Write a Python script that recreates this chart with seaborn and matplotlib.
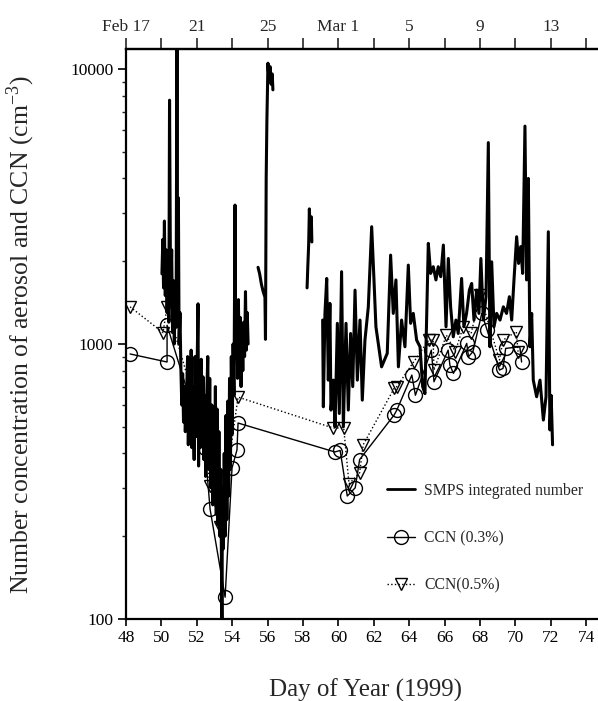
import numpy as np
import pandas as pd
import matplotlib
matplotlib.use("Agg")
import matplotlib.pyplot as plt
import seaborn as sns
from matplotlib.lines import Line2D
from matplotlib.ticker import LogLocator, NullFormatter, FixedLocator, FixedFormatter

# ---------------- data ----------------
# SMPS integrated number, separate record segments (day of year, cm-3)
seg_a_day = [50.03, 50.08, 50.12, 50.17, 50.22, 50.27, 50.32, 50.37, 50.42, 50.46, 50.52, 50.58,
             50.63, 50.68, 50.73, 50.78, 50.83, 50.88, 50.92, 50.96, 51.0, 51.05, 51.1, 51.15,
             51.2, 51.25, 51.3, 51.35, 51.42, 51.48, 51.52, 51.58, 51.62, 51.68, 51.72, 51.78,
             51.85, 51.9, 51.95, 52.0, 52.07, 52.1, 52.15, 52.2, 52.25, 52.3, 52.35, 52.4,
             52.45, 52.5, 52.55, 52.62, 52.68, 52.73, 52.78, 52.85, 52.9, 52.95, 53.0, 53.05,
             53.1, 53.15, 53.2, 53.25, 53.3, 53.35, 53.42, 53.45, 53.5, 53.55, 53.6, 53.65,
             53.7, 53.75, 53.8, 53.85, 53.9, 53.95, 54.0, 54.05, 54.1, 54.16, 54.2, 54.25,
             54.3, 54.35, 54.4, 54.45, 54.5, 54.55, 54.6, 54.65, 54.7, 54.75, 54.8, 54.85, 54.9]
seg_a_val = [1800, 2400, 1600, 2800, 1500, 2200, 1300, 1900, 1200, 7700, 1400, 2200,
             1100, 1700, 1000, 1600, 1150, 15000, 1300, 3400, 1000, 1300, 820, 600,
             780, 520, 700, 480, 650, 900, 430, 820, 500, 950, 420, 700,
             380, 900, 460, 700, 1400, 360, 650, 420, 880, 450, 760, 380,
             650, 330, 600, 900, 350, 750, 300, 600, 260, 500, 280, 700,
             240, 580, 220, 480, 200, 350, 100, 300, 180, 400, 200, 550,
             230, 620, 280, 750, 350, 900, 470, 1000, 650, 3200, 900, 1300,
             750, 1450, 850, 1250, 700, 1100, 800, 1200, 900, 1550, 950, 1300, 1000]

seg_b_day = [55.46, 55.55, 55.65, 55.75, 55.85, 55.88, 55.92, 55.96, 56.02, 56.08, 56.14, 56.2, 56.26, 56.3]
seg_b_val = [1900, 1800, 1650, 1550, 1480, 1040, 4000, 6500, 10500, 9000, 10200, 8800, 9600, 8400]

seg_c_day = [58.23, 58.27, 58.32, 58.36, 58.42, 58.47, 58.5]
seg_c_val = [1600, 1900, 2300, 3100, 2400, 2900, 2350]

seg_d_day = [59.11, 59.15, 59.24, 59.34, 59.43, 59.52, 59.58, 59.71, 59.81, 59.94, 60.05, 60.18,
             60.28, 60.43, 60.56, 60.69, 60.81, 60.94, 61.07, 61.22, 61.35, 61.5, 61.69, 61.88,
             62.01, 62.12, 62.44, 62.76, 62.95, 63.1, 63.25, 63.39, 63.57, 63.76, 63.95, 64.08,
             64.23, 64.42, 64.61, 64.76, 64.89, 65.08, 65.21, 65.36, 65.51, 65.64, 65.78, 65.93,
             66.08, 66.21, 66.34, 66.49, 66.64, 66.77, 66.96, 67.09, 67.24, 67.4, 67.53, 67.66,
             67.81, 67.94, 68.05, 68.19, 68.34, 68.47, 68.56, 68.66, 68.79, 68.94, 69.13, 69.32,
             69.5, 69.66, 69.79, 69.92, 70.07, 70.18, 70.3, 70.41, 70.54, 70.63, 70.73, 70.82,
             70.92, 71.01, 71.2, 71.39, 71.58, 71.73, 71.86, 71.95, 72.02, 72.1]
seg_d_val = [1222, 591, 1292, 1731, 739, 1405, 575, 739, 500, 1189, 559, 1832,
             500, 1189, 575, 1092, 700, 1570, 739, 1222, 625, 1033, 1365, 2670,
             1710, 1155, 826, 925, 2105, 1292, 1710, 826, 1222, 977, 1936, 1189,
             1292, 1033, 977, 700, 660, 2322, 1806, 1910, 1710, 1910, 1757, 2290,
             1155, 2046, 1365, 1062, 1222, 1092, 1731, 1155, 1292, 1570, 1660, 1222,
             1570, 1292, 2046, 1222, 1486, 5400, 977, 1990, 1155, 1292, 1222, 1365,
             1292, 1486, 1222, 1710, 2455, 1963, 2260, 1806, 6200, 1710, 4000, 977,
             1292, 739, 643, 739, 529, 643, 2560, 487, 650, 430]

# CCN at 0.3 % supersaturation
ccn03_day = [48.23, 50.32, 50.32, 52.46, 52.75, 53.6, 53.99, 54.27, 54.33, 59.8, 60.1, 60.5,
             60.95, 61.2, 63.15, 63.3, 64.15, 64.35, 65.25, 65.4, 66.2, 66.3, 66.5, 67.25,
             67.35, 67.6, 68.1, 68.4, 69.1, 69.3, 69.45, 70.25, 70.35]
ccn03_val = [920, 860, 1170, 420, 251, 120, 354, 412, 516, 405, 410, 280,
             300, 380, 552, 575, 771, 651, 950, 729, 950, 837, 782, 1005,
             899, 938, 1292, 1125, 804, 815, 964, 977, 860]

# CCN at 0.5 % supersaturation
ccn05_day = [48.23, 50.09, 50.32, 52.3, 52.75, 53.3, 54.33, 59.7, 60.3, 60.6, 61.2, 61.4,
             63.15, 63.3, 64.25, 65.1, 65.35, 65.4, 66.1, 66.6, 67.05, 67.5, 68.0, 69.1,
             69.3, 70.05, 70.15]
ccn05_val = [1365, 1100, 1365, 500, 304, 216, 641, 495, 495, 310, 340, 430,
             690, 700, 860, 1033, 1033, 804, 1077, 938, 1155, 1092, 1507, 875,
             1033, 1110, 938]

top_ticks = [48, 50, 52, 54, 56, 58, 60, 62, 64, 66, 68, 70, 72, 74]
top_labels = ["Feb 17", "", "21", "", "25", "", "Mar 1", "", "5", "", "9", "", "13", ""]
bottom_ticks = [48, 50, 52, 54, 56, 58, 60, 62, 64, 66, 68, 70, 72, 74]

legend_labels = ["SMPS integrated number", "CCN (0.3%)", "CCN(0.5%)"]

# ---------------- styling ----------------
sns.set_theme(style="ticks")
plt.rcParams["font.family"] = ["Liberation Serif", "DejaVu Serif"]
plt.rcParams["mathtext.fontset"] = "stix"

fig = plt.figure(figsize=(5.98, 7.01), dpi=100)
ax = fig.add_axes([126 / 598, 82 / 701, 472 / 598, 570 / 701])
ax.set_yscale("log")

rows = []
for sid, (d, v) in enumerate([(seg_a_day, seg_a_val), (seg_b_day, seg_b_val),
                              (seg_c_day, seg_c_val), (seg_d_day, seg_d_val)]):
    for di, vi in zip(d, v):
        rows.append({"day": di, "val": vi, "seg": sid})
smps = pd.DataFrame(rows)

sns.lineplot(data=smps, x="day", y="val", units="seg", estimator=None, sort=False,
             color="black", lw=2.2, ax=ax, legend=False)

sns.lineplot(x=ccn03_day, y=ccn03_val, estimator=None, sort=False, ax=ax,
             color="black", lw=1.0, marker="o", markersize=10,
             markerfacecolor="none", markeredgecolor="black", markeredgewidth=1.0)
sns.lineplot(x=ccn05_day, y=ccn05_val, estimator=None, sort=False, ax=ax,
             color="black", lw=1.0, linestyle=":", marker="v", markersize=9,
             markerfacecolor="none", markeredgecolor="black", markeredgewidth=1.0)

ax.set_xlim(48, 48 + 472 / 17.7)
ax.set_ylim(100, 10 ** (2 + 570 / 275))

ax.set_xticks(bottom_ticks)
ax.set_xticklabels([str(t) for t in bottom_ticks])
ax.yaxis.set_major_locator(FixedLocator([100, 1000, 10000]))
ax.yaxis.set_major_formatter(FixedFormatter(["100", "1000", "10000"]))
ax.yaxis.set_minor_locator(LogLocator(base=10, subs=np.arange(2, 10)))
ax.yaxis.set_minor_formatter(NullFormatter())

for s in ["left", "bottom", "top"]:
    ax.spines[s].set_linewidth(1.6)
    ax.spines[s].set_color("black")
ax.spines["right"].set_visible(False)

ax.tick_params(axis="x", which="major", direction="out", length=5, width=1.2,
               labelsize=12.5, pad=3, colors="black", top=False)
ax.tick_params(axis="y", which="major", direction="out", length=6, width=1.2,
               labelsize=12.5, pad=3, colors="black")
ax.tick_params(axis="y", which="minor", direction="out", length=3, width=1.0)

sec = ax.secondary_xaxis("top")
sec.set_xticks(top_ticks)
sec.set_xticklabels(top_labels)
sec.tick_params(direction="out", length=8, width=1.2, labelsize=12.5, pad=2)
sec.spines["top"].set_linewidth(1.6)

ax.set_xlabel("Day of Year (1999)", fontsize=18)
ax.xaxis.set_label_coords(0.508, -0.125)
ax.xaxis.label.set_va("center")
ax.set_ylabel("Number concentration of aerosol and CCN (cm$^{\\mathregular{-3}}$)", fontsize=18.5)
ax.yaxis.set_label_coords(-0.222, 0.5)
ax.yaxis.label.set_va("center")

handles = [Line2D([], [], color="black", lw=2.0),
           Line2D([], [], color="black", lw=1.0, marker="o", markersize=10,
                  markerfacecolor="none", markeredgecolor="black"),
           Line2D([], [], color="black", lw=1.0, linestyle=":", marker="v", markersize=9,
                  markerfacecolor="none", markeredgecolor="black")]
ax.legend(handles, legend_labels, loc="upper left", bbox_to_anchor=(0.54, 0.25),
          frameon=False, labelspacing=2.0, handlelength=1.8, handletextpad=0.55,
          fontsize=11.3, borderaxespad=0)

fig.savefig("out.png", dpi=100)
